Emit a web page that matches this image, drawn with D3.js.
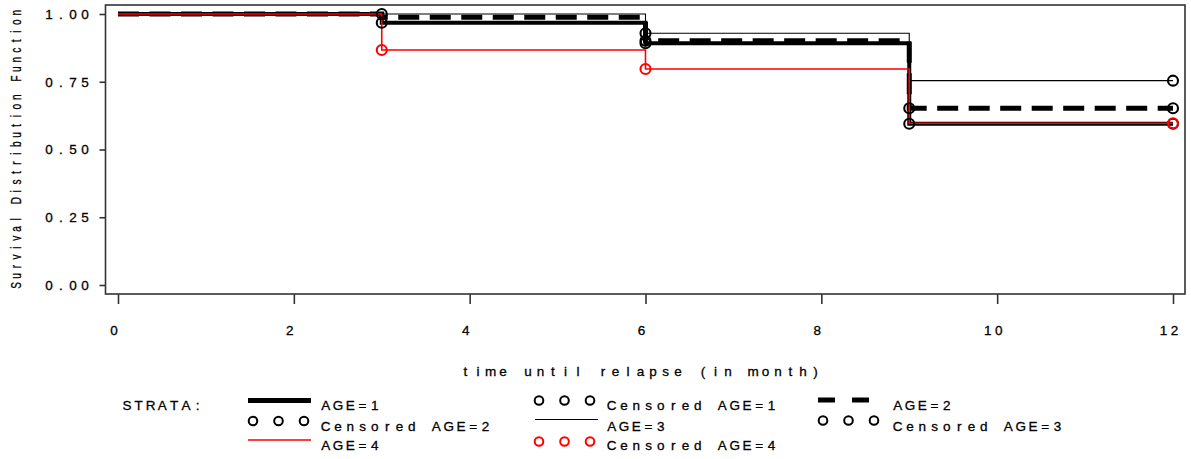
<!DOCTYPE html>
<html>
<head>
<meta charset="utf-8">
<script src="https://cdn.jsdelivr.net/npm/d3@7"></script>
<style>
  html, body { margin: 0; padding: 0; background: #fff; }
  svg { display: block; font-family: "Liberation Sans", Arial, sans-serif; }
  text { white-space: pre; fill: #000; stroke: #000; stroke-width: 0.3px; }
</style>
</head>
<body>
<svg id="chart" width="1191" height="459"></svg>
<script>
// ---- data ----
const times = [0, 3, 6, 9, 12];
const age1 = [1.0, 0.968, 0.892, 0.595, 0.595];
const age2 = [1.0, 0.988, 0.901, 0.652, 0.652];
const age3 = [1.0, 1.0, 0.929, 0.754, 0.754];
const age4 = [1.0, 0.867, 0.797, 0.597, 0.597];
const cens1Times = [3, 6, 9, 12];
const cens2Times = [6, 9, 12];
const cens3Times = [3, 6, 12];
const cens4Times = [3, 6, 12];
const xTicks = [0, 2, 4, 6, 8, 10, 12];
const yTicks = [0, 0.25, 0.5, 0.75, 1.0];
const yTickLabels = ["0.00", "0.25", "0.50", "0.75", "1.00"];
const xTitle = "time until relapse (in month)";
const yTitle = "Survival Distribution Function";

const svg = d3.select("#chart");
const x = d3.scaleLinear().domain([0, 12]).range([118, 1173]);
const y = d3.scaleLinear().domain([0, 1]).range([285, 14]);

// mono-spaced text helper (fixed character cells)
function mono(g, str, px, py, adv, anchor) {
  const n = str.length;
  const start = anchor === "middle" ? px - n * adv / 2 : anchor === "end" ? px - n * adv : px;
  const xs = d3.range(n).map(i => (start + (i + 0.5) * adv).toFixed(2));
  return g.append("text").attr("x", xs.join(" ")).attr("y", py)
    .attr("text-anchor", "middle").text(str);
}

// frame
svg.append("rect").attr("x", 105.5).attr("y", 5).attr("width", 1185 - 105.5).attr("height", 294 - 5)
  .attr("fill", "none").attr("stroke", "#333").attr("stroke-width", 1.6);

// axes ticks
const gx = svg.append("g").attr("transform", "translate(0,294)")
  .call(d3.axisBottom(x).tickValues(xTicks).tickSize(10).tickFormat(""));
gx.select(".domain").remove();
gx.selectAll("line").attr("stroke", "#333").attr("stroke-width", 1.6);
const gy = svg.append("g").attr("transform", "translate(105.5,0)")
  .call(d3.axisLeft(y).tickValues(yTicks).tickSize(6).tickFormat(""));
gy.select(".domain").remove();
gy.selectAll("line").attr("stroke", "#333").attr("stroke-width", 1.6);

const labels = svg.append("g").style("font-size", "13.5px");
xTicks.forEach(t => mono(labels, String(t), x(t) - 4, 335, 11, "middle"));
yTicks.forEach((t, i) => mono(labels, yTickLabels[i], 91, y(t) + 4.8, 12, "end"));
mono(labels, xTitle, 640.5, 376, 12.5, "middle");

// y title (condensed)
const yt = svg.append("g").attr("transform", "translate(20.5,149) rotate(-90) scale(0.72,1)")
  .style("font-size", "14px");
mono(yt, yTitle, 0, 0, 9.4 / 0.72, "middle");

// survival curves
const line = d3.line().x(d => x(d[0])).y(d => y(d[1])).curve(d3.curveStepAfter);
const plot = svg.append("g");
const series = [
  { vals: age1, stroke: "#000", width: 4, dash: null },
  { vals: age2, stroke: "#000", width: 5, dash: "21,10.5" },
  { vals: age3, stroke: "#000", width: 1.1, dash: null },
  { vals: age4, stroke: "#ff0000", width: 1.6, dash: null }
];
series.forEach(s => {
  plot.append("path").datum(times.map((t, i) => [t, s.vals[i]]))
    .attr("d", line).attr("fill", "none").attr("stroke", s.stroke)
    .attr("stroke-width", s.width).attr("stroke-dasharray", s.dash);
});

// censored markers
function survAt(vals, t) {
  let v = vals[0];
  times.forEach((tt, i) => { if (tt <= t) v = vals[i]; });
  return v;
}
const cens = [
  { t: cens1Times, vals: age1, color: "#000" },
  { t: cens2Times, vals: age2, color: "#000" },
  { t: cens3Times, vals: age3, color: "#000" },
  { t: cens4Times, vals: age4, color: "#ff0000" }
];
cens.forEach(c => {
  plot.selectAll(null).data(c.t).enter().append("circle")
    .attr("cx", d => x(d)).attr("cy", d => y(survAt(c.vals, d))).attr("r", 5)
    .attr("fill", "none").attr("stroke", c.color).attr("stroke-width", 2.1);
});

// legend
const lg = svg.append("g").style("font-size", "13.5px");
mono(lg, "STRATA:", 121, 410, 11.8, "start");
function circles3(cx0, cy, color) {
  [0, 25.5, 51].forEach(dx => lg.append("circle").attr("cx", cx0 + dx).attr("cy", cy).attr("r", 4.3)
    .attr("fill", "none").attr("stroke", color).attr("stroke-width", 2));
}
// column 1
lg.append("line").attr("x1", 248).attr("x2", 311).attr("y1", 400.5).attr("y2", 400.5)
  .attr("stroke", "#000").attr("stroke-width", 5);
mono(lg, "AGE=1", 319.5, 410, 12.3, "start");
circles3(253, 421, "#000");
mono(lg, "Censored AGE=2", 319.5, 431, 12.3, "start");
lg.append("line").attr("x1", 248).attr("x2", 311).attr("y1", 440).attr("y2", 440)
  .attr("stroke", "#ff0000").attr("stroke-width", 1.6);
mono(lg, "AGE=4", 319.5, 450, 12.3, "start");
// column 2
circles3(539, 400.5, "#000");
mono(lg, "Censored AGE=1", 605.5, 410, 12.3, "start");
lg.append("line").attr("x1", 535).attr("x2", 598).attr("y1", 419.5).attr("y2", 419.5)
  .attr("stroke", "#000").attr("stroke-width", 1.2);
mono(lg, "AGE=3", 605.5, 431, 12.3, "start");
circles3(539, 441.5, "#ff0000");
mono(lg, "Censored AGE=4", 605.5, 450, 12.3, "start");
// column 3
lg.append("line").attr("x1", 818).attr("x2", 872).attr("y1", 400).attr("y2", 400)
  .attr("stroke", "#000").attr("stroke-width", 5).attr("stroke-dasharray", "17,17");
mono(lg, "AGE=2", 891.5, 410, 12.3, "start");
circles3(823, 420.5, "#000");
mono(lg, "Censored AGE=3", 891.5, 431, 12.3, "start");
</script>
</body>
</html>
